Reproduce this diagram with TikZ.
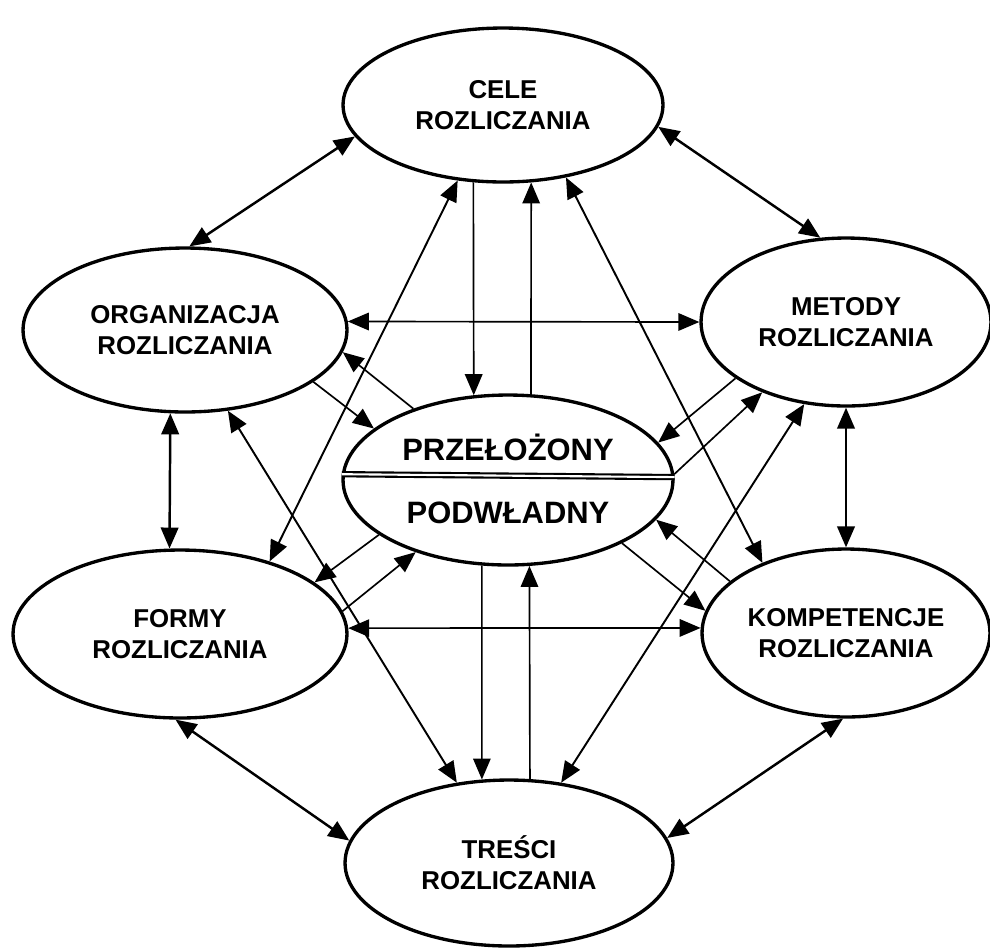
\documentclass[tikz,border=0pt]{standalone}
\usepackage{fontspec}
\setmainfont{Liberation Sans}
\usetikzlibrary{shapes.geometric,arrows.meta}
\tikzset{
	pole/.style={ellipse, draw, line width=1.9pt, inner sep=0pt, align=center, font=\fontsize{14.7}{17.8}\selectfont\bfseries},
	wiez/.style={<->, line width=1.4pt},
	dlug/.style={<->, line width=1.1pt},
	strz/.style={->, line width=0.95pt},
}
\begin{document}
\begin{tikzpicture}[>={Triangle[length=4.2mm,width=3.5mm]}, line join=round, x=0.02cm, y=-0.02cm]
				\useasboundingbox (0,0) rectangle (990,948);
				\node[pole, minimum width=6.4cm, minimum height=3.08cm] (cele) at (503,105) {CELE\\ROZLICZANIA};
				\node[pole, minimum width=6.48cm, minimum height=3.28cm] (org) at (185,330) {ORGANIZACJA\\ROZLICZANIA};
				\node[pole, minimum width=5.8cm, minimum height=3.36cm] (met) at (846,322) {METODY\\ROZLICZANIA};
				\node[pole, minimum width=6.6cm, minimum height=3.4cm] (cen) at (508,480) {};
				\node[pole, minimum width=6.68cm, minimum height=3.36cm] (form) at (180,634) {FORMY\\ROZLICZANIA};
				\node[pole, minimum width=5.76cm, minimum height=3.36cm] (komp) at (846,633) {KOMPETENCJE\\ROZLICZANIA};
				\node[pole, minimum width=6.56cm, minimum height=3.32cm] (tresc) at (509,863) {TREŚCI\\ROZLICZANIA};
				\draw[double, line width=1.2pt, double distance=1.2pt] (cen.178.6) -- (cen.1.4);
				\node[anchor=base, font=\fontsize{17.6}{20}\selectfont\bfseries] (przel) at (508,460) {PRZEŁOŻONY};
				\node[anchor=base, font=\fontsize{17.6}{20}\selectfont\bfseries] (podwl) at (508,523) {PODWŁADNY};
				\draw[wiez] (cele.192) -- (org.87);
				\draw[wiez] (cele.352) -- (met.107);
				\draw[wiez] (org.260) -- (form.97);
				\draw[wiez] (met.270) -- (komp.90);
				\draw[wiez] (form.267) -- (tresc.172);
				\draw[wiez] (komp.268) -- (tresc.9);
				\draw[strz, <->] (org.3) -- (met.180);
				\draw[strz, <->] (form.2) -- (komp.178);
				\draw[dlug] (cele.239) -- (form.39);
				\draw[dlug] (cele.311) -- (komp.140);
				\draw[dlug] (org.298) -- (tresc.123);
				\draw[dlug] (met.243) -- (tresc.57);
				\draw[strz] (cele.249) -- (cen.112);
				\draw[strz] (cen.75) -- (cele.290);
				\draw[strz] (cen.253) -- (tresc.108);
				\draw[strz] (tresc.76) -- (cen.284);
				\draw[strz] (org.338) -- (cen.159);
				\draw[strz] (cen.143) -- (org.352);
				\draw[strz] (cen.203) -- (form.21);
				\draw[strz] (form.8) -- (cen.218);
				\draw[strz] (met.207) -- (cen.14);
				\draw[strz] (cen.2) -- (met.220);
				\draw[strz] (komp.156) -- (cen.345);
				\draw[strz] (cen.331) -- (komp.171);
			\end{tikzpicture}
\end{document}
